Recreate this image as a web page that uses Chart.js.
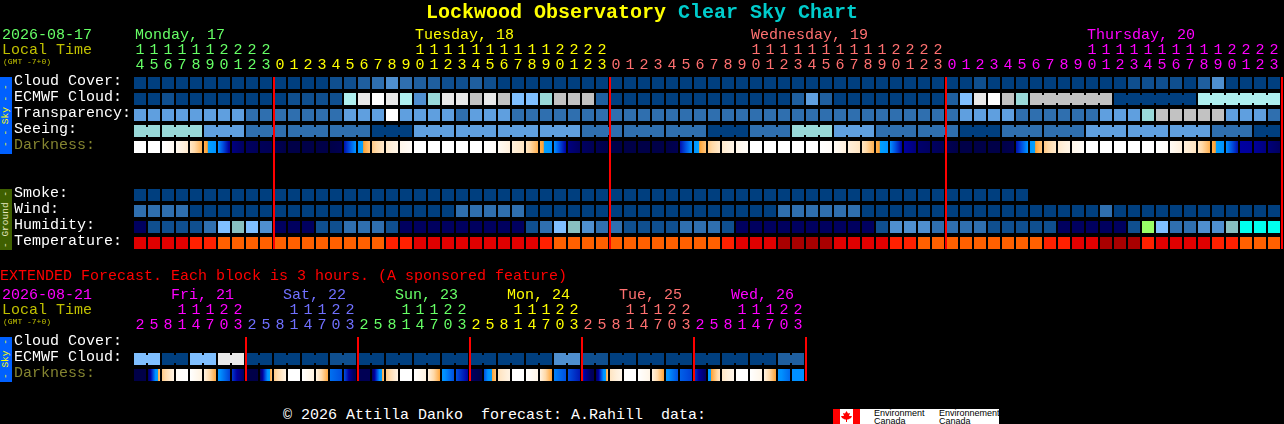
<!DOCTYPE html>
<html>
<head>
<meta charset="utf-8">
<title>Lockwood Observatory Clear Sky Chart</title>
<script src="https://cdn.jsdelivr.net/npm/chart.js@4/dist/chart.umd.min.js"></script>
<style>
    html, body { margin: 0; background: #000; overflow: hidden; }
    body { width: 1284px; height: 424px; position: relative; font-family: "Liberation Mono", monospace; font-size: 15px; }
    canvas { position: absolute; left: 0; }
    .txt { position: absolute; white-space: pre; line-height: 16px; }
    .tiny { font-size: 8px; line-height: 8px; color: #c0c000; }
    .band { position: absolute; left: 0; width: 12px; writing-mode: vertical-rl; transform: rotate(180deg);
            text-align: center; font-size: 9.5px; line-height: 12px; white-space: pre; overflow: hidden; }
    #logo { position: absolute; left: 833px; top: 409px; width: 166px; height: 15px; background: #fff; color: #000;
            font-family: "Liberation Sans", sans-serif; font-size: 9px; line-height: 8px; }
    #logo span { position: absolute; top: 0; white-space: pre; }
    #logo svg { position: absolute; left: 0; top: 0; }
</style>
</head>
<body>
<canvas id="skyChart" width="1284" height="251" style="top:0"></canvas>
<canvas id="extChart" width="808" height="115" style="top:268px"></canvas>

<div class="txt" style="left:426px;top:1px;font-size:20px;line-height:24px;font-weight:bold"><span style="color:#ffff00">Lockwood Observatory</span> <span style="color:#00cccc">Clear Sky Chart</span></div>
<div class="txt" style="left:2px;top:28px;color:#66ff66">2026-08-17</div>
<div class="txt" style="left:2px;top:43px;color:#c0c000">Local Time</div>
<div class="txt tiny" style="left:3px;top:58px">(GMT -7+0)</div>
<div class="band" style="top:77px;height:77px;background:#0060ff;color:#ffff00">- - Sky - -</div>
<div class="band" style="top:189px;height:61px;background:#3f6000;color:#e8e8c0">- Ground -</div>

<div class="txt" style="left:0;top:269px;color:#ff0000">EXTENDED Forecast. Each block is 3 hours. (A sponsored feature)</div>
<div class="txt" style="left:2px;top:288px;color:#ff00ff">2026-08-21</div>
<div class="txt" style="left:2px;top:303px;color:#c0c000">Local Time</div>
<div class="txt tiny" style="left:3px;top:318px">(GMT -7+0)</div>
<div class="band" style="top:337px;height:45px;background:#0060ff;color:#ffff00">- Sky -</div>

<div class="txt" style="left:283px;top:408px;color:#fff">© 2026 Attilla Danko  forecast: A.Rahill  data:</div>
<div id="logo">
    <svg width="27" height="15"><rect width="7" height="15" fill="#f00"/><rect x="20" width="7" height="15" fill="#f00"/><polygon fill="#f00" points="13.5,2 15,4.5 17,4 16,7 19,7 18,9 15,10.5 14,10.5 14,13 13,13 13,10.5 12,10.5 9,9 8,7 11,7 10,4 12,4.5"/></svg>
    <span style="left:41px">Environment
Canada</span>
    <span style="left:106px">Environnement
Canada</span>
</div>

<script>
// Horas locales de cada bloque
const skyHours = [
    14, 15, 16, 17, 18, 19, 20, 21, 22, 23,
    0, 1, 2, 3, 4, 5, 6, 7, 8, 9, 10, 11, 12, 13, 14, 15, 16, 17, 18, 19, 20, 21, 22, 23,
    0, 1, 2, 3, 4, 5, 6, 7, 8, 9, 10, 11, 12, 13, 14, 15, 16, 17, 18, 19, 20, 21, 22, 23,
    0, 1, 2, 3, 4, 5, 6, 7, 8, 9, 10, 11, 12, 13, 14, 15, 16, 17, 18, 19, 20, 21, 22, 23,
];
const extHours = [
    2, 5, 8, 11, 14, 17, 20, 23, 2, 5, 8, 11, 14, 17, 20, 23, 2, 5, 8, 11, 14, 17, 20, 23,
    2, 5, 8, 11, 14, 17, 20, 23, 2, 5, 8, 11, 14, 17, 20, 23, 2, 5, 8, 11, 14, 17, 20, 23,
];
const skyDays = ["Monday, 17", "Tuesday, 18", "Wednesday, 19", "Thursday, 20"];
const skyDayCells = [0, 20, 44, 68];
const skyDayFirstHour = [0, 10, 34, 58];
const skyDayColors = ["#66ff66", "#ffff00", "#ff7070", "#ff00ff"];
const extDays = ["Fri, 21", "Sat, 22", "Sun, 23", "Mon, 24", "Tue, 25", "Wed, 26"];
const extDayCells = [3, 11, 19, 27, 35, 43];
const extDayFirstHour = [0, 8, 16, 24, 32, 40];
const extDayColors = ["#ff00ff", "#7070ff", "#66ff66", "#ffff00", "#ff7070", "#ff00ff"];
const skyMidnights = [10, 34, 58, 82];
const extMidnights = [8, 16, 24, 32, 40, 48];

const skyRows = ["Cloud Cover:", "ECMWF Cloud:", "Transparency:", "Seeing:", "Darkness:", "", "", "Smoke:", "Wind:", "Humidity:", "Temperature:"];
const extRows = ["Cloud Cover:", "ECMWF Cloud:", "Darkness:"];

// Valores: índice dentro de la paleta de cada fila
const cloudCover = [
    0, 0, 0, 0, 0, 0, 0, 0, 0, 0, 0, 0, 0, 0, 1, 1, 2, 3, 4, 3, 2, 2, 1, 1, 2, 1, 0, 0, 0, 0, 0, 0, 0, 0,
    0, 0, 0, 0, 0, 0, 0, 0, 0, 0, 0, 0, 0, 0, 0, 0, 0, 0, 0, 0, 0, 0, 0, 0,
    0, 0, 1, 0, 0, 0, 0, 0, 0, 0, 0, 0, 0, 1, 1, 1, 1, 0, 2, 4, 0, 0, 0, 0,
];
const ecmwfCloud = [
    0, 0, 1, 0, 0, 0, 0, 0, 0, 0, 0, 1, 1, 1, 1, 8, 9, 11, 9, 8, 4, 7, 9, 9, 10, 9, 10, 6, 6, 7, 10, 10, 10, 2,
    0, 0, 0, 0, 0, 0, 0, 0, 0, 0, 0, 0, 0, 2, 5, 2, 0, 0, 0, 0, 0, 0, 0, 0,
    2, 6, 9, 11, 10, 7, 10, 10, 10, 10, 10, 10, 0, 0, 0, 0, 0, 0, 8, 8, 8, 8, 8, 8,
];
const ecmwfMerged = [[64, 69], [70, 75], [76, 81]];
const transparency = [
    5, 5, 5, 5, 5, 5, 5, 5, 3, 3, 3, 3, 3, 3, 3, 5, 5, 5, 11, 5, 5, 5, 5, 3, 5, 5, 5, 3, 3, 3, 3, 3, 3, 3,
    3, 3, 3, 3, 3, 3, 3, 3, 3, 3, 3, 3, 3, 3, 3, 3, 3, 3, 3, 3, 3, 3, 3, 3,
    3, 5, 5, 5, 5, 3, 3, 3, 3, 3, 3, 5, 5, 5, 7, 10, 10, 10, 10, 10, 5, 5, 5, 3,
];
const seeing = [
    7, 7, 7, 7, 7, 5, 5, 5, 3, 3, 3, 3, 3, 3, 3, 3, 3, 0, 0, 0, 5, 5, 5, 5, 5, 5, 5, 5, 5, 5, 5, 5, 3, 3,
    3, 3, 3, 3, 3, 3, 3, 0, 0, 0, 3, 3, 3, 7, 7, 7, 5, 5, 5, 3, 3, 3, 3, 3,
    3, 0, 0, 0, 3, 3, 3, 3, 3, 3, 5, 5, 5, 5, 5, 5, 5, 5, 5, 3, 3, 3, 0, 0,
];
const seeingMerged = [
    [0, 1], [2, 4], [5, 7], [8, 10], [11, 13], [14, 16], [17, 19], [20, 22], [23, 25], [26, 28], [29, 31],
    [32, 34], [35, 37], [38, 40], [41, 43], [44, 46], [47, 49], [50, 52], [53, 55], [56, 58], [59, 61],
    [62, 64], [65, 67], [68, 70], [71, 73], [74, 76], [77, 79], [80, 81],
];
const smoke = [
    0, 0, 0, 0, 0, 0, 0, 0, 0, 0, 0, 0, 0, 0, 0, 0, 0, 0, 0, 0, 0, 0, 0, 0, 0, 0, 0, 0, 0, 0, 0, 0, 0, 0,
    0, 0, 0, 0, 0, 0, 0, 0, 0, 0, 0, 0, 0, 0, 0, 0, 0, 0, 0, 0, 0, 0, 0, 0,
    0, 0, 0, 0, 0, 0,
];
const wind = [
    3, 3, 3, 3, 0, 0, 0, 0, 0, 0, 0, 0, 0, 0, 0, 0, 0, 0, 0, 0, 0, 0, 0, 3, 3, 3, 3, 3, 0, 0, 0, 0, 0, 0,
    0, 0, 0, 0, 0, 0, 0, 0, 0, 0, 0, 0, 3, 3, 3, 3, 3, 3, 0, 0, 0, 0, 0, 0,
    0, 0, 0, 0, 0, 0, 0, 0, 0, 0, 0, 3, 0, 0, 0, 0, 0, 0, 0, 0, 0, 0, 0, 0,
];
const humidity = [
    0, 1, 1, 1, 1, 3, 6, 7, 6, 4, 0, 0, 0, 1, 1, 3, 3, 3, 1, 0, 0, 0, 0, 0, 0, 0, 0, 0, 1, 3, 6, 7, 4, 3,
    3, 1, 1, 1, 1, 3, 3, 3, 1, 0, 0, 0, 0, 0, 0, 0, 0, 0, 0, 1, 4, 4, 4, 3,
    3, 3, 3, 1, 1, 1, 1, 1, 0, 0, 0, 0, 0, 1, 8, 6, 3, 3, 4, 4, 7, 9, 9, 9,
];
const temperature = [
    1, 1, 1, 1, 2, 2, 3, 3, 3, 3, 3, 3, 3, 3, 3, 3, 3, 3, 2, 2, 1, 1, 1, 1, 1, 1, 1, 1, 1, 2, 3, 3, 3, 3,
    3, 3, 3, 3, 3, 3, 3, 3, 2, 1, 1, 1, 0, 0, 0, 0, 1, 1, 1, 1, 2, 2, 3, 3,
    3, 3, 3, 3, 3, 3, 3, 2, 2, 1, 1, 0, 0, 0, 2, 1, 1, 1, 1, 2, 2, 3, 3, 3,
];
// Oscuridad: nivel al borde izquierdo y derecho de cada bloque (0 = día, 8 = noche)
const darknessStart = [
    0, 0, 0, 0.5, 1.4, 3, 4.2, 6.5, 7, 7.3, 7.5, 8, 8, 8, 8, 5.8, 4, 2.4, 1.3, 0.6, 0, 0, 0, 0, 0, 0, 0.3, 1, 1.5, 3, 4.2, 6.5, 7, 7.5,
    8, 8, 8, 8, 8, 5.8, 4, 2.4, 1.3, 0.6, 0, 0, 0, 0, 0, 0, 0.3, 1, 1.5, 3, 4.2, 6, 6.8, 7,
    7.5, 8, 8, 8, 8, 5.8, 4, 2.4, 1.3, 0.6, 0, 0, 0, 0, 0, 0, 0.3, 1, 1.5, 3, 4.2, 6, 6.1, 6.6,
];
const darknessEnd = [
    0, 0, 0.4, 1.3, 3, 4.1, 6.2, 7, 7.3, 7.5, 8, 8, 8, 8, 7.6, 4.1, 2.5, 1.3, 0.7, 0.2, 0, 0, 0, 0, 0, 0.2, 1, 1.5, 3, 4.1, 6, 7, 7.5, 8,
    8, 8, 8, 8, 7.6, 4.1, 2.5, 1.3, 0.7, 0.2, 0, 0, 0, 0, 0, 0.2, 1, 1.5, 3, 4.1, 6, 6.6, 7, 7.5,
    8, 8, 8, 8, 7.6, 4.1, 2.5, 1.3, 0.7, 0.2, 0, 0, 0, 0, 0, 0.2, 1, 1.5, 3, 4.1, 5.8, 6.1, 6.5, 7,
];

const extEcmwf = [
    6, 6, 0, 0, 6, 6, 9, 9, 0, 0, 0, 0, 0, 0, 1, 1, 0, 0, 0, 0, 0, 0, 0, 0,
    0, 0, 0, 0, 0, 0, 4, 4, 1, 1, 0, 0, 0, 0, 0, 0, 0, 0, 0, 0, 0, 0, 2, 2,
];
const extMerged = [
    [0, 1], [2, 3], [4, 5], [6, 7], [8, 9], [10, 11], [12, 13], [14, 15], [16, 17], [18, 19], [20, 21], [22, 23],
    [24, 25], [26, 27], [28, 29], [30, 31], [32, 33], [34, 35], [36, 37], [38, 39], [40, 41], [42, 43], [44, 45], [46, 47],
];
const extDarknessStart = [
    8, 7, 2.4, 0.2, 0, 0.9, 4, 5.3, 8, 7, 2.4, 0, 0, 0.9, 4.6, 5, 7.5, 7, 2.4, 0, 0, 0.9, 4, 5,
    7, 5, 1.6, 0, 0, 0.9, 4.4, 5, 5.6, 7, 1.5, 0, 0, 0.9, 4, 4.8, 5.3, 4, 1.4, 0, 0, 0.9, 4, 4.2,
];
const extDarknessEnd = [
    8, 2.5, 0.8, 0, 0.9, 3.2, 5.2, 7, 8, 2.5, 0.8, 0, 0.9, 3.2, 5, 7.5, 7.5, 2.5, 0.8, 0, 0.9, 3.2, 5, 6,
    8, 2.5, 0.8, 0, 0.7, 3.3, 5, 5.7, 7.5, 2.5, 0.6, 0, 0.7, 3.3, 5, 5.2, 7, 1.5, 0.6, 0, 0.7, 3.3, 4.7, 4.2,
];

// Paletas
const cloudColors = ["#003f7f", "#0f4f8f", "#1f5f9f", "#2f6faf", "#4f8fcf", "#5f9fdf", "#7fbfff", "#99d9d9", "#afefef", "#e9e9e9", "#c2c2c2", "#ffffff"];
const humidityColors = ["#00005f", "#0f4f8f", "#1f5f9f", "#2f6faf", "#4f8fcf", "#5f9fdf", "#7fbfff", "#88c0c0", "#99ff66", "#00ffee"];
const temperatureColors = ["#a80000", "#e00000", "#ff2000", "#ff6000"];
const darknessLevels = [0, 1, 2, 3, 3.3, 3.4, 4.2, 5, 6, 7, 8];
const darknessColors = ["#ffffff", "#fff0dc", "#ffd9a8", "#ffb050", "#ffa030", "#00a0ff", "#0090ff", "#0050e0", "#0000a0", "#000060", "#000048"];

const FONT = "'Liberation Mono', monospace";

function hexToRgb(hex) {
    return [1, 3, 5].map((p) => parseInt(hex.substr(p, 2), 16));
}

function darknessColor(level) {
    let k = 0;
    while (k < darknessLevels.length - 2 && level > darknessLevels[k + 1]) k++;
    const t = (level - darknessLevels[k]) / (darknessLevels[k + 1] - darknessLevels[k]);
    const a = hexToRgb(darknessColors[k]);
    const b = hexToRgb(darknessColors[k + 1]);
    return "rgb(" + a.map((v, j) => Math.round(v + (b[j] - v) * t)).join(",") + ")";
}

// Degradado del bloque, pasando por los colores de la paleta que quedan entre sus dos extremos
function darknessFill(starts, ends) {
    return function (ctx) {
        if (ctx.dataIndex === undefined || !ctx.chart.scales.x) return "transparent";
        const i = ctx.dataIndex;
        const cx = ctx.chart.scales.x.getPixelForValue(i);
        if (!isFinite(cx)) return "transparent";
        const g = ctx.chart.ctx.createLinearGradient(cx - 6, 0, cx + 6, 0);
        const a = starts[i];
        const b = ends[i];
        g.addColorStop(0, darknessColor(a));
        if (a !== b) {
            darknessLevels.forEach((lvl) => {
                if (lvl > Math.min(a, b) && lvl < Math.max(a, b)) {
                    g.addColorStop((lvl - a) / (b - a), darknessColor(lvl));
                }
            });
        }
        g.addColorStop(1, darknessColor(b));
        return g;
    };
}

function cellRow(row, values, fill) {
    return {
        data: values.map((v, i) => ({ x: i, y: [row - 0.375, row + 0.375] })),
        backgroundColor: fill,
        grouped: false,
        barPercentage: 100,
        maxBarThickness: 12,
        borderWidth: 0,
    };
}

function paletteRow(row, values, palette) {
    return cellRow(row, values, (ctx) => palette[values[ctx.dataIndex]]);
}

// Puentes de 2px entre bloques que forman un solo periodo
function mergeBridges(row, values, palette, merged) {
    const cells = [];
    merged.forEach(([first, last]) => {
        for (let i = first; i < last; i++) cells.push(i);
    });
    return {
        data: cells.map((i) => ({ x: i + 0.5, y: [row - 0.25, row + 0.25] })),
        backgroundColor: (ctx) => palette[values[cells[ctx.dataIndex]]],
        grouped: false,
        barPercentage: 100,
        maxBarThickness: 2,
        borderWidth: 0,
    };
}

function midnightLines(cells, lastRow) {
    return {
        data: cells.map((c) => ({ x: c - 3 / 7, y: [-0.375, lastRow + 0.375] })),
        backgroundColor: "#ff0000",
        grouped: false,
        barPercentage: 100,
        maxBarThickness: 2,
        borderWidth: 0,
    };
}

const dayLabelsPlugin = {
    id: "dayLabels",
    afterDraw(chart, args, opts) {
        const c = chart.ctx;
        c.save();
        c.font = "15px " + FONT;
        c.textBaseline = "middle";
        c.textAlign = "left";
        opts.names.forEach((name, i) => {
            c.fillStyle = opts.colors[i];
            c.fillText(name, chart.scales.x.getPixelForValue(opts.cells[i]) + opts.offset, chart.chartArea.top - 40);
        });
        c.restore();
    },
};

function buildChart(id, cfg) {
    const canvas = document.getElementById(id);
    const hourColor = (index) => {
        let d = 0;
        while (d + 1 < cfg.dayFirstHour.length && index >= cfg.dayFirstHour[d + 1]) d++;
        return cfg.dayColors[d];
    };
    return new Chart(canvas.getContext("2d"), {
        type: "bar",
        data: { datasets: cfg.datasets },
        plugins: [dayLabelsPlugin],
        options: {
            responsive: false,
            animation: false,
            events: [],
            layout: { padding: { left: 14, top: 0, right: 0, bottom: 0 } },
            plugins: {
                legend: { display: false },
                tooltip: { enabled: false },
                dayLabels: { names: cfg.days, cells: cfg.dayCells, colors: cfg.dayColors, offset: cfg.dayOffset },
            },
            scales: {
                x: {
                    type: "linear",
                    position: "top",
                    offset: false,
                    min: -0.5,
                    max: -0.5 + (canvas.width - 133) / 14,
                    grid: { display: false, drawTicks: false },
                    border: { display: false },
                    afterBuildTicks: (scale) => {
                        scale.ticks = cfg.hours.map((h, i) => ({ value: i }));
                    },
                    afterFit: (scale) => {
                        scale.height = cfg.headerHeight;
                        scale.paddingLeft = 0;
                        scale.paddingRight = 0;
                    },
                    ticks: {
                        autoSkip: false,
                        maxRotation: 0,
                        padding: 2,
                        font: { family: FONT, size: 15, lineHeight: "15px" },
                        color: (ctx) => hourColor(ctx.index),
                        callback: (value, index) => {
                            const h = cfg.hours[index];
                            return [h >= 10 ? String(Math.floor(h / 10)) : "", String(h % 10)];
                        },
                    },
                },
                y: {
                    type: "linear",
                    reverse: true,
                    min: -0.5,
                    max: cfg.rows.length - 0.5,
                    grid: { display: false, drawTicks: false },
                    border: { display: false },
                    afterBuildTicks: (scale) => {
                        scale.ticks = cfg.rows.map((r, i) => ({ value: i }));
                    },
                    afterFit: (scale) => {
                        scale.width = 119;
                        scale.paddingTop = 0;
                        scale.paddingBottom = 0;
                    },
                    ticks: {
                        autoSkip: false,
                        padding: 0,
                        crossAlign: "far",
                        labelOffset: -2,
                        font: { family: FONT, size: 15 },
                        color: (ctx) => (cfg.rows[ctx.index] === "Darkness:" ? "#848430" : "#ffffff"),
                        callback: (value, index) => cfg.rows[index],
                    },
                },
            },
        },
    });
}

buildChart("skyChart", {
    hours: skyHours,
    rows: skyRows,
    days: skyDays,
    dayCells: skyDayCells,
    dayFirstHour: skyDayFirstHour,
    dayColors: skyDayColors,
    dayOffset: -5,
    headerHeight: 75,
    datasets: [
        midnightLines(skyMidnights, 10),
        mergeBridges(1, ecmwfCloud, cloudColors, ecmwfMerged),
        mergeBridges(3, seeing, cloudColors, seeingMerged),
        paletteRow(0, cloudCover, cloudColors),
        paletteRow(1, ecmwfCloud, cloudColors),
        paletteRow(2, transparency, cloudColors),
        paletteRow(3, seeing, cloudColors),
        cellRow(4, darknessStart, darknessFill(darknessStart, darknessEnd)),
        paletteRow(7, smoke, cloudColors),
        paletteRow(8, wind, cloudColors),
        paletteRow(9, humidity, humidityColors),
        paletteRow(10, temperature, temperatureColors),
    ],
});

buildChart("extChart", {
    hours: extHours,
    rows: extRows,
    days: extDays,
    dayCells: extDayCells,
    dayFirstHour: extDayFirstHour,
    dayColors: extDayColors,
    dayOffset: -11,
    headerHeight: 67,
    datasets: [
        midnightLines(extMidnights, 2),
        mergeBridges(1, extEcmwf, cloudColors, extMerged),
        paletteRow(1, extEcmwf, cloudColors),
        cellRow(2, extDarknessStart, darknessFill(extDarknessStart, extDarknessEnd)),
    ],
});
</script>
</body>
</html>
